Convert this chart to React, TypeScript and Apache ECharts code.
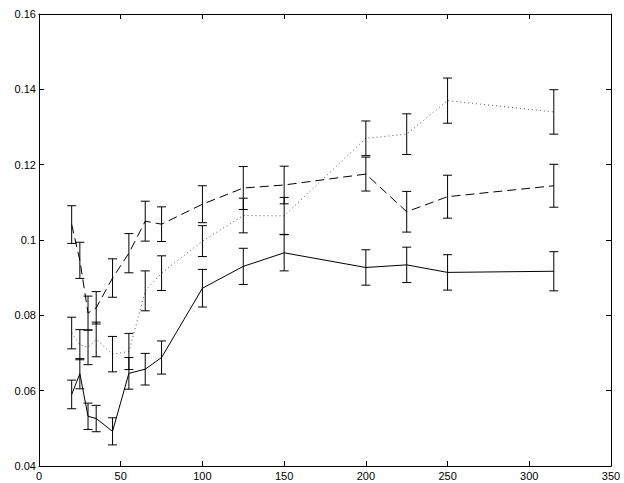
import React, { useEffect, useRef } from "react";
import * as echarts from "echarts";

const xValues = [20, 25, 30, 35, 45, 55, 65, 75, 100, 125, 150, 200, 225, 250, 315];

const solidValues = [0.059, 0.0645, 0.0532, 0.0526, 0.0492, 0.0646, 0.0657, 0.0688, 0.0872, 0.093, 0.0966, 0.0927, 0.0934, 0.0914, 0.0917];
const solidErrors = [0.0038, 0.004, 0.0035, 0.0035, 0.0036, 0.0042, 0.0042, 0.0044, 0.005, 0.0048, 0.0048, 0.0047, 0.0047, 0.0047, 0.0052];

const dashedValues = [0.1041, 0.0946, 0.0806, 0.082, 0.0899, 0.0965, 0.105, 0.1042, 0.1095, 0.1138, 0.1146, 0.1175, 0.1075, 0.1115, 0.1144];
const dashedErrors = [0.005, 0.0048, 0.0045, 0.0043, 0.0051, 0.0052, 0.0053, 0.0046, 0.0049, 0.0057, 0.005, 0.0045, 0.0054, 0.0057, 0.0057];

const dottedValues = [0.0753, 0.0722, 0.0715, 0.0736, 0.0697, 0.0704, 0.0865, 0.0912, 0.0997, 0.1065, 0.1064, 0.127, 0.1281, 0.137, 0.134];
const dottedErrors = [0.0042, 0.004, 0.0046, 0.0046, 0.0047, 0.0048, 0.0053, 0.0046, 0.0041, 0.0046, 0.0049, 0.0046, 0.0054, 0.006, 0.0059];

const xTicks = { min: 0, max: 350, interval: 50 };
const yTicks = { min: 0.04, max: 0.16, interval: 0.02 };

function lineData(vals: number[]) {
  return xValues.map((x, i) => [x, vals[i]]);
}
function errData(vals: number[], errs: number[]) {
  return xValues.map((x, i) => [x, vals[i] - errs[i], vals[i] + errs[i]]);
}

const renderErr = (params: any, api: any) => {
  const x = api.value(0);
  const lo = api.coord([x, api.value(1)]);
  const hi = api.coord([x, api.value(2)]);
  const hw = 4.5;
  const style = { stroke: "#000", lineWidth: 1 };
  return {
    type: "group",
    children: [
      { type: "line", shape: { x1: lo[0], y1: lo[1], x2: hi[0], y2: hi[1] }, style },
      { type: "line", shape: { x1: lo[0] - hw, y1: lo[1], x2: lo[0] + hw, y2: lo[1] }, style },
      { type: "line", shape: { x1: hi[0] - hw, y1: hi[1], x2: hi[0] + hw, y2: hi[1] }, style },
    ],
  };
};

export default function App() {
  const ref = useRef<HTMLDivElement>(null);
  useEffect(() => {
    if (!ref.current) return;
    const chart = echarts.init(ref.current, undefined, { renderer: "svg" });
    const axisCommon = {
      axisLine: { show: true, onZero: false, lineStyle: { color: "#000", width: 1 } },
      axisTick: { show: true, inside: true, length: 5, lineStyle: { color: "#000" } },
      splitLine: { show: false },
    };
    const labelStyle = { color: "#000", fontSize: 11, fontFamily: "Liberation Sans, Arial, sans-serif" };
    const fmt = (v: number) => parseFloat(v.toFixed(2)).toString();
    chart.setOption({
      animation: false,
      backgroundColor: "#fff",
      grid: { left: 39, right: 13, top: 14, bottom: 17, containLabel: false },
      xAxis: [
        { type: "value", ...xTicks, position: "bottom", ...axisCommon, axisLabel: { ...labelStyle, margin: 4, formatter: fmt } },
        { type: "value", ...xTicks, position: "top", ...axisCommon, axisLabel: { show: false } },
      ],
      yAxis: [
        { type: "value", ...yTicks, position: "left", ...axisCommon, axisLabel: { ...labelStyle, margin: 3, formatter: fmt } },
        { type: "value", ...yTicks, position: "right", ...axisCommon, axisLabel: { show: false } },
      ],
      series: [
        { type: "line", data: lineData(solidValues), showSymbol: false, lineStyle: { color: "#000", width: 1, type: "solid" }, z: 3 },
        { type: "line", data: lineData(dashedValues), showSymbol: false, lineStyle: { color: "#000", width: 1, type: [9, 5] }, z: 3 },
        { type: "line", data: lineData(dottedValues), showSymbol: false, lineStyle: { color: "#555", width: 1, type: [1, 3] }, z: 3 },
        { type: "custom", data: errData(solidValues, solidErrors), renderItem: renderErr, encode: { x: 0, y: [1, 2] }, z: 4 },
        { type: "custom", data: errData(dashedValues, dashedErrors), renderItem: renderErr, encode: { x: 0, y: [1, 2] }, z: 4 },
        { type: "custom", data: errData(dottedValues, dottedErrors), renderItem: renderErr, encode: { x: 0, y: [1, 2] }, z: 4 },
      ],
    });
    return () => chart.dispose();
  }, []);
  return <div ref={ref} style={{ width: 624, height: 483, position: "absolute", left: 0, top: 0 }} />;
}
